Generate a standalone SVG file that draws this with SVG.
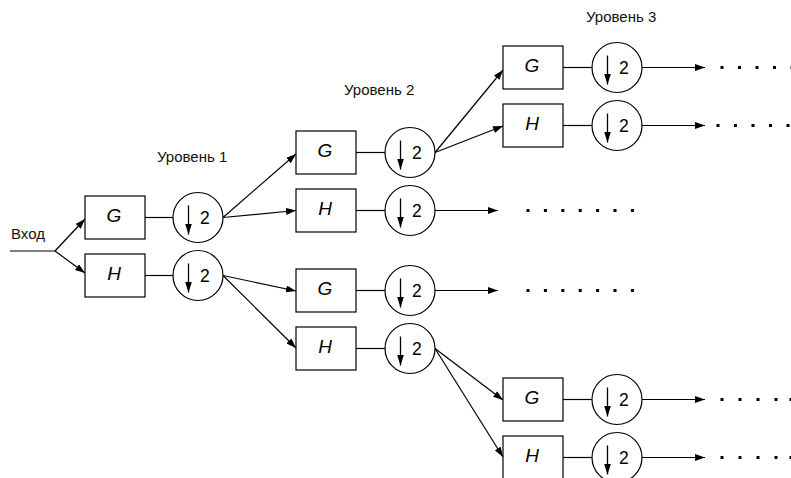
<svg xmlns="http://www.w3.org/2000/svg" width="791" height="478" viewBox="0 0 791 478">
<defs>
<marker id="ah" viewBox="0 0 10 7" refX="10" refY="3.5" markerWidth="10" markerHeight="7" markerUnits="userSpaceOnUse" orient="auto">
<path d="M0,0 L10,3.5 L0,7 z" fill="#000"/>
</marker>
<marker id="dn" viewBox="0 0 11 7" refX="11" refY="3.5" markerWidth="11" markerHeight="7" markerUnits="userSpaceOnUse" orient="auto">
<path d="M0,0 L11,3.5 L0,7 z" fill="#000"/>
</marker>
</defs>
<style>
.box{fill:#fff;stroke:#000;stroke-width:1.2}
.circ{fill:#fff;stroke:#000;stroke-width:1.2}
.lbl{font-family:"Liberation Sans",Arial,sans-serif;font-style:italic;font-size:19px;text-anchor:middle;fill:#000}
.two{font-family:"Liberation Sans",Arial,sans-serif;font-size:17.5px;fill:#000}
.txt{font-family:"Liberation Sans",Arial,sans-serif;font-size:15px;fill:#111}
.dn{stroke:#000;stroke-width:1.3;marker-end:url(#dn)}
.c{stroke:#000;stroke-width:1.2;fill:none}
.a{stroke:#000;stroke-width:1.2;fill:none;marker-end:url(#ah)}
.dot{fill:#000}
</style>

<g id="labels">
<text class="txt" x="11" y="239">Вход</text>
<text class="txt" x="157" y="162">Уровень 1</text>
<text class="txt" x="344" y="95">Уровень 2</text>
<text class="txt" x="586" y="22">Уровень 3</text>
</g>

<g id="connectors">
<path class="c" d="M10,251 H55"/>
<path class="a" d="M55,251 L85,219"/>
<path class="a" d="M55,251 L85,273"/>
<path class="c" d="M145,217.5 H173"/>
<path class="c" d="M145,275.5 H173"/>
<path class="a" d="M223,217.5 L296,154"/>
<path class="a" d="M223,217.5 L296,210.5"/>
<path class="a" d="M223,275.5 L296,291"/>
<path class="a" d="M223,275.5 L296,348"/>
<path class="c" d="M356,152.5 H385"/>
<path class="c" d="M356,210.5 H385"/>
<path class="c" d="M356,290.5 H385"/>
<path class="c" d="M356,348.5 H385"/>
<path class="a" d="M435,152.5 L503,70"/>
<path class="a" d="M435,152.5 L503,126"/>
<path class="a" d="M435,210.5 L498,210.5"/>
<path class="a" d="M435,290.5 L498,290.5"/>
<path class="a" d="M435,348.5 L503,400"/>
<path class="a" d="M435,348.5 L503,457"/>
<path class="c" d="M563,67.5 H592"/>
<path class="c" d="M563,125.5 H592"/>
<path class="c" d="M563,399.5 H592"/>
<path class="c" d="M563,457.5 H592"/>
<path class="a" d="M642,67.5 L705,67.5"/>
<path class="a" d="M642,125.5 L705,125.5"/>
<path class="a" d="M642,399.5 L705,399.5"/>
<path class="a" d="M642,457.5 L705,457.5"/>
</g>

<g id="dots">
<g transform="translate(0,210.5)">
<rect class="dot" x="526.5" y="-1.5" width="3" height="3"/><rect class="dot" x="543.9" y="-1.5" width="3" height="3"/><rect class="dot" x="561.3" y="-1.5" width="3" height="3"/><rect class="dot" x="578.7" y="-1.5" width="3" height="3"/><rect class="dot" x="596.1" y="-1.5" width="3" height="3"/><rect class="dot" x="613.5" y="-1.5" width="3" height="3"/><rect class="dot" x="630.9" y="-1.5" width="3" height="3"/>
</g>
<g transform="translate(0,290.5)">
<rect class="dot" x="526.5" y="-1.5" width="3" height="3"/><rect class="dot" x="543.9" y="-1.5" width="3" height="3"/><rect class="dot" x="561.3" y="-1.5" width="3" height="3"/><rect class="dot" x="578.7" y="-1.5" width="3" height="3"/><rect class="dot" x="596.1" y="-1.5" width="3" height="3"/><rect class="dot" x="613.5" y="-1.5" width="3" height="3"/><rect class="dot" x="630.9" y="-1.5" width="3" height="3"/>
</g>
<g transform="translate(0,67.5)">
<rect class="dot" x="720.5" y="-1.5" width="3" height="3"/><rect class="dot" x="738" y="-1.5" width="3" height="3"/><rect class="dot" x="755.5" y="-1.5" width="3" height="3"/><rect class="dot" x="773" y="-1.5" width="3" height="3"/><rect class="dot" x="790.5" y="-1.5" width="3" height="3"/>
</g>
<g transform="translate(0,125.5)">
<rect class="dot" x="716.5" y="-1.5" width="3" height="3"/><rect class="dot" x="734" y="-1.5" width="3" height="3"/><rect class="dot" x="751.5" y="-1.5" width="3" height="3"/><rect class="dot" x="769" y="-1.5" width="3" height="3"/><rect class="dot" x="786.5" y="-1.5" width="3" height="3"/>
</g>
<g transform="translate(0,399.5)">
<rect class="dot" x="720.5" y="-1.5" width="3" height="3"/><rect class="dot" x="738.5" y="-1.5" width="3" height="3"/><rect class="dot" x="756.5" y="-1.5" width="3" height="3"/><rect class="dot" x="774.5" y="-1.5" width="3" height="3"/><rect class="dot" x="789.5" y="-1.5" width="3" height="3"/>
</g>
<g transform="translate(0,457.5)">
<rect class="dot" x="720.5" y="-1.5" width="3" height="3"/><rect class="dot" x="738.5" y="-1.5" width="3" height="3"/><rect class="dot" x="756.5" y="-1.5" width="3" height="3"/><rect class="dot" x="774.5" y="-1.5" width="3" height="3"/><rect class="dot" x="789.5" y="-1.5" width="3" height="3"/>
</g>
</g>

<!-- Level 1 -->
<g id="L1-G"><rect class="box" x="85" y="196" width="60" height="43"/><text class="lbl" x="114" y="222">G</text></g>
<g id="L1-H"><rect class="box" x="85" y="254" width="60" height="43"/><text class="lbl" x="114" y="280">H</text></g>
<g id="L1-G-down"><circle class="circ" cx="198" cy="217.5" r="25"/><line class="dn" x1="188.5" y1="205.5" x2="188.5" y2="234.5"/><text class="two" x="200" y="224">2</text></g>
<g id="L1-H-down"><circle class="circ" cx="198" cy="275.5" r="25"/><line class="dn" x1="188.5" y1="263.5" x2="188.5" y2="292.5"/><text class="two" x="200" y="282">2</text></g>

<!-- Level 2 -->
<g id="L2-GG"><rect class="box" x="296" y="131" width="60" height="43"/><text class="lbl" x="325" y="157">G</text></g>
<g id="L2-GH"><rect class="box" x="296" y="189" width="60" height="43"/><text class="lbl" x="325" y="215">H</text></g>
<g id="L2-HG"><rect class="box" x="296" y="269" width="60" height="43"/><text class="lbl" x="325" y="295">G</text></g>
<g id="L2-HH"><rect class="box" x="296" y="327" width="60" height="43"/><text class="lbl" x="325" y="353">H</text></g>
<g id="L2-GG-down"><circle class="circ" cx="410" cy="152.5" r="25"/><line class="dn" x1="400.5" y1="140.5" x2="400.5" y2="169.5"/><text class="two" x="412" y="159">2</text></g>
<g id="L2-GH-down"><circle class="circ" cx="410" cy="210.5" r="25"/><line class="dn" x1="400.5" y1="198.5" x2="400.5" y2="227.5"/><text class="two" x="412" y="217">2</text></g>
<g id="L2-HG-down"><circle class="circ" cx="410" cy="290.5" r="25"/><line class="dn" x1="400.5" y1="278.5" x2="400.5" y2="307.5"/><text class="two" x="412" y="297">2</text></g>
<g id="L2-HH-down"><circle class="circ" cx="410" cy="348.5" r="25"/><line class="dn" x1="400.5" y1="336.5" x2="400.5" y2="365.5"/><text class="two" x="412" y="355">2</text></g>

<!-- Level 3 -->
<g id="L3-GGG"><rect class="box" x="503" y="46" width="60" height="43"/><text class="lbl" x="532" y="72">G</text></g>
<g id="L3-GGH"><rect class="box" x="503" y="104" width="60" height="43"/><text class="lbl" x="532" y="130">H</text></g>
<g id="L3-HHG"><rect class="box" x="503" y="378" width="60" height="43"/><text class="lbl" x="532" y="404">G</text></g>
<g id="L3-HHH"><rect class="box" x="503" y="436" width="60" height="43"/><text class="lbl" x="532" y="462">H</text></g>
<g id="L3-GGG-down"><circle class="circ" cx="617" cy="67.5" r="25"/><line class="dn" x1="607.5" y1="55.5" x2="607.5" y2="84.5"/><text class="two" x="619" y="74">2</text></g>
<g id="L3-GGH-down"><circle class="circ" cx="617" cy="125.5" r="25"/><line class="dn" x1="607.5" y1="113.5" x2="607.5" y2="142.5"/><text class="two" x="619" y="132">2</text></g>
<g id="L3-HHG-down"><circle class="circ" cx="617" cy="399.5" r="25"/><line class="dn" x1="607.5" y1="387.5" x2="607.5" y2="416.5"/><text class="two" x="619" y="406">2</text></g>
<g id="L3-HHH-down"><circle class="circ" cx="617" cy="457.5" r="25"/><line class="dn" x1="607.5" y1="445.5" x2="607.5" y2="474.5"/><text class="two" x="619" y="464">2</text></g>
</svg>
